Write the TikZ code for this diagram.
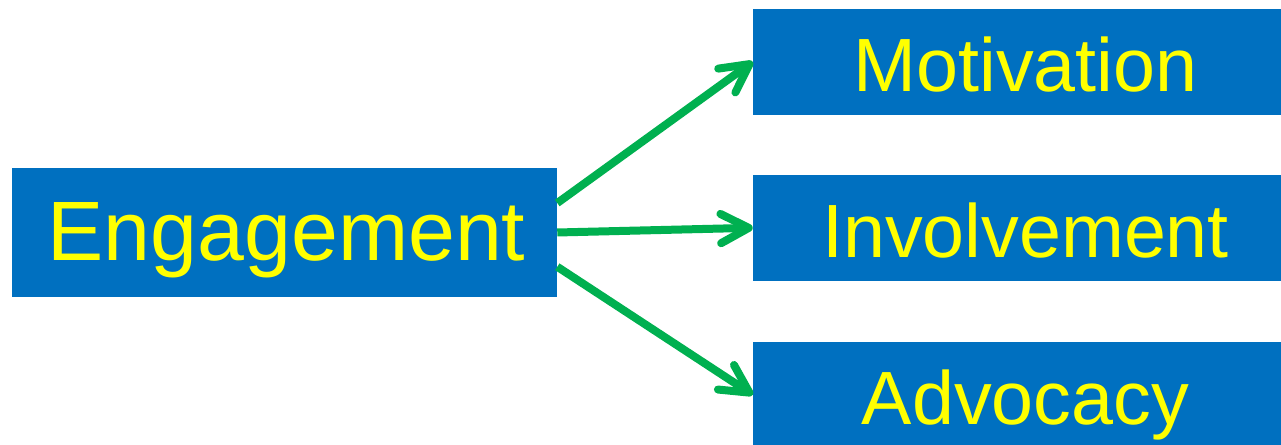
\documentclass[tikz,border=0pt]{standalone}
\usepackage{fontspec}
\setmainfont{Liberation Sans}
\usetikzlibrary{arrows.meta}

\begin{document}
\begin{tikzpicture}[x=0.75pt, y=0.75pt,
  box/.style={fill=boxblue, text=boxtext, inner sep=0pt, minimum width=408.75pt, text depth=0pt},
  bigbox/.style={box, minimum height=96.75pt, text height=42.3pt, font=\fontsize{63.2}{70}\selectfont},
  smallbox/.style={box, minimum height=79.3pt, text height=45pt, font=\fontsize{56.6}{62}\selectfont},
  link/.style={draw=linkgreen, line width=6pt, -{Straight Barb[length=21pt, width=22pt, round]}}]
  % Define colors
  \definecolor{boxblue}{HTML}{0070C0}
  \definecolor{boxtext}{HTML}{FFFF00}
  \definecolor{linkgreen}{HTML}{00B050}

  % Canvas
  \useasboundingbox (0,0) rectangle (1281,445);

  % Source box
  \node[bigbox] (engagement) at (284.5, 212.5) {\hspace{3pt}Engagement};

  % Target boxes
  \node[smallbox] (motivation) at (1025.5, 383.2) {Motivation};
  \node[smallbox] (involvement) at (1025.5, 217.2) {Involvement};
  \node[smallbox] (advocacy) at (1025.5, 50.2) {Advocacy};

  % Arrows
  \draw[link] ([yshift=22.1pt]engagement.east) -- (motivation.west);
  \draw[link] (engagement.east) -- (involvement.west);
  \draw[link] ([yshift=-25.7pt]engagement.east) -- (advocacy.west);
\end{tikzpicture}
\end{document}
